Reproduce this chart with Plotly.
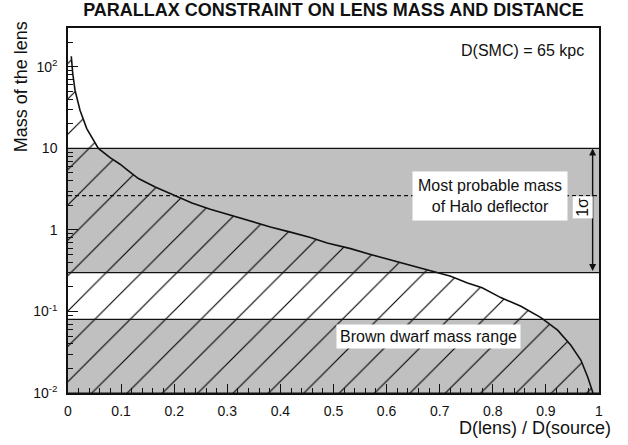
import math
import plotly.graph_objects as go

# lens distance (fraction of source distance) vs. upper mass limit from parallax
DIST = [0.0062, 0.0089, 0.0132, 0.0226, 0.0353, 0.0572, 0.0792, 0.0981, 0.1108,
        0.1326, 0.1642, 0.1987, 0.2334, 0.2679, 0.3057, 0.3434, 0.3811, 0.4189,
        0.4566, 0.4881, 0.5321, 0.5698, 0.6075, 0.6453, 0.6887, 0.7208, 0.7523,
        0.780, 0.815, 0.853, 0.8906, 0.922, 0.947, 0.966, 0.9787, 0.988, 0.9887]
MASS = [135, 83, 51.8, 29.4, 17.5, 10.0, 7.7, 6.4, 5.5,
        4.27, 3.37, 2.67, 2.14, 1.79, 1.51, 1.28, 1.09, 0.94,
        0.81, 0.69, 0.59, 0.50, 0.43, 0.37, 0.305, 0.27, 0.224,
        0.195, 0.148, 0.116, 0.084, 0.059, 0.0385, 0.0252, 0.0157, 0.0108, 0.01]

BROWN_DWARF = (0.01, 0.08)
HALO_1SIGMA = (0.3, 10.0)
HALO_MOST_PROBABLE = 2.64

Y_RANGE = (0.01, 300.0)
Y_TICKS = [0.01, 0.1, 1, 10, 100]
Y_TICKTEXT = ["10<sup>-2</sup>", "10<sup>-1</sup>", "1", "10", "10<sup>2</sup>"]
X_TICKS = [0, 0.1, 0.2, 0.3, 0.4, 0.5, 0.6, 0.7, 0.8, 0.9, 1]
X_TICKTEXT = ["0", "0.1", "0.2", "0.3", "0.4", "0.5", "0.6", "0.7", "0.8", "0.9", "1"]

FONT = "Liberation Sans, Arial, sans-serif"
GRAY = "#c0c0c0"
INK = "#111111"

fig = go.Figure()

# hatched region: under the curve, down to the bottom of the axis
fig.add_trace(go.Scatter(
    x=[0] + DIST + [0],
    y=[MASS[0]] + MASS + [Y_RANGE[0]],
    mode="lines", fill="toself", line=dict(width=0),
    fillcolor="rgba(0,0,0,0)",
    fillpattern=dict(shape="/", size=25, solidity=0.045, fgopacity=1,
                     fgcolor="#000000", bgcolor="rgba(0,0,0,0)"),
    hoverinfo="skip", showlegend=False,
))
fig.add_trace(go.Scatter(
    x=DIST, y=MASS, mode="lines",
    line=dict(color=INK, width=1.6),
    showlegend=False,
))

# gray mass bands
for lo, hi in (BROWN_DWARF, HALO_1SIGMA):
    fig.add_shape(type="rect", xref="x", yref="y", x0=0, x1=1, y0=lo, y1=hi,
                  fillcolor=GRAY, line=dict(width=0), layer="below")
    for yv in (lo, hi):
        fig.add_shape(type="line", xref="x", yref="y", x0=0, x1=1, y0=yv, y1=yv,
                      line=dict(color=INK, width=1.2), layer="above")

fig.add_shape(type="line", xref="x", yref="y", x0=0, x1=1,
              y0=HALO_MOST_PROBABLE, y1=HALO_MOST_PROBABLE,
              line=dict(color=INK, width=1.1, dash="4px,3px"), layer="above")

# 1 sigma double arrow
fig.add_annotation(x=0.988, y=math.log10(HALO_1SIGMA[1]),
                   ax=0.988, ay=math.log10(HALO_1SIGMA[0]),
                   xref="x", yref="y", axref="x", ayref="y",
                   text="", showarrow=True, arrowhead=2, startarrowhead=2,
                   arrowside="end+start", arrowsize=1, arrowwidth=1.4,
                   arrowcolor=INK, standoff=0, startstandoff=0)
fig.add_annotation(x=0.970, y=math.log10(1.87), xref="x", yref="y",
                   text="1σ", textangle=-90, showarrow=False,
                   bgcolor="white", borderpad=1,
                   font=dict(family=FONT, size=16, color=INK))

fig.add_annotation(x=0.794, y=math.log10(HALO_MOST_PROBABLE), xref="x", yref="y",
                   text="Most probable mass<br>of Halo deflector", showarrow=False,
                   bgcolor="white", borderpad=5,
                   font=dict(family=FONT, size=16, color=INK))
fig.add_annotation(x=0.679, y=math.log10(0.0497), xref="x", yref="y",
                   text="Brown dwarf mass range", showarrow=False,
                   bgcolor="white", borderpad=3,
                   font=dict(family=FONT, size=16, color=INK))
fig.add_annotation(x=0.975, y=math.log10(160), xref="x", yref="y",
                   xanchor="right", text="D(SMC) = 65 kpc", showarrow=False,
                   font=dict(family=FONT, size=16, color=INK))

# axis titles placed like the original
fig.add_annotation(x=1.026, y=-0.096, xref="paper", yref="paper",
                   xanchor="right", yanchor="middle", showarrow=False,
                   text="D(lens) / D(source)",
                   font=dict(family=FONT, size=18, color=INK))
fig.add_annotation(x=-0.087, y=0.84, xref="paper", yref="paper",
                   xanchor="center", yanchor="middle", showarrow=False,
                   textangle=-90, text="Mass of the lens",
                   font=dict(family=FONT, size=18, color=INK))

y_minor = [m * 10 ** e for e in range(-2, 3) for m in range(2, 10)
           if m * 10 ** e < Y_RANGE[1]]

fig.update_layout(
    width=628, height=445,
    margin=dict(l=68, r=29, t=28, b=52),
    paper_bgcolor="white", plot_bgcolor="white",
    font=dict(family=FONT, size=14, color=INK),
    title=dict(text="<b>PARALLAX CONSTRAINT ON LENS MASS AND DISTANCE</b>",
               x=0.531, xanchor="center", y=0.979, yanchor="middle",
               font=dict(family=FONT, size=18, color=INK)),
    xaxis=dict(range=[0, 1], tickvals=X_TICKS, ticktext=X_TICKTEXT,
               ticks="inside", ticklen=9, tickwidth=1.2, tickcolor=INK,
               minor=dict(dtick=0.02, ticks="inside", ticklen=5, tickcolor=INK),
               showline=True, linecolor=INK, linewidth=1.5, mirror=True,
               showgrid=False, zeroline=False, ticklabelstandoff=4),
    yaxis=dict(type="log", range=[math.log10(Y_RANGE[0]), math.log10(Y_RANGE[1])],
               tickvals=Y_TICKS, ticktext=Y_TICKTEXT,
               ticks="inside", ticklen=10, tickwidth=1.2, tickcolor=INK,
               minor=dict(tickvals=y_minor, ticks="inside", ticklen=5, tickcolor=INK),
               showline=True, linecolor=INK, linewidth=1.5, mirror=True,
               showgrid=False, zeroline=False, ticklabelstandoff=6),
)

fig.write_html("out.html", config={"displayModeBar": False},
               post_script="document.body.style.margin='0';")
